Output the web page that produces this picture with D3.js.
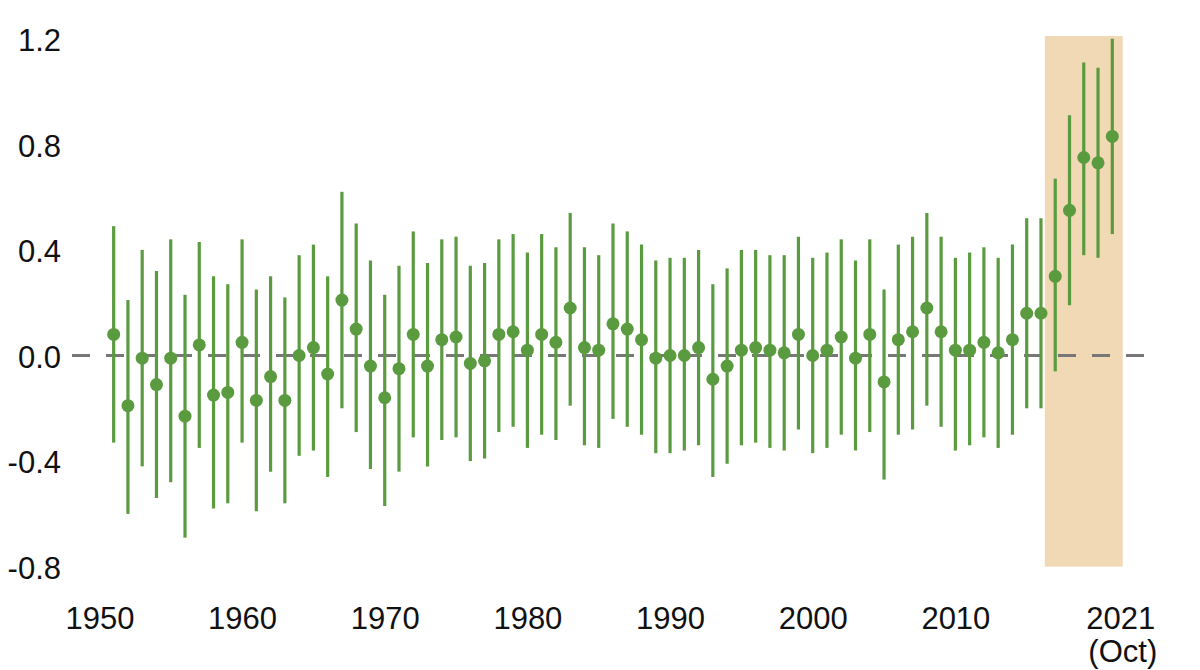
<!DOCTYPE html>
<html>
<head>
<meta charset="utf-8">
<script src="https://cdn.jsdelivr.net/npm/d3@7"></script>
<style>
  html, body { margin: 0; padding: 0; background: #fff; }
  svg { display: block; }
  .tick text { font-family: "Liberation Sans", Arial, sans-serif; fill: #111; }
</style>
</head>
<body>
<svg id="chart" width="1200" height="670"></svg>
<script>
// --- data ---
const years = [
  1951, 1952, 1953, 1954, 1955, 1956, 1957, 1958, 1959, 1960,
  1961, 1962, 1963, 1964, 1965, 1966, 1967, 1968, 1969, 1970,
  1971, 1972, 1973, 1974, 1975, 1976, 1977, 1978, 1979, 1980,
  1981, 1982, 1983, 1984, 1985, 1986, 1987, 1988, 1989, 1990,
  1991, 1992, 1993, 1994, 1995, 1996, 1997, 1998, 1999, 2000,
  2001, 2002, 2003, 2004, 2005, 2006, 2007, 2008, 2009, 2010,
  2011, 2012, 2013, 2014, 2015, 2016, 2017, 2018, 2019, 2020,
  2021
];

const centre = [
   0.08, -0.19, -0.01, -0.11, -0.01, -0.23,  0.04, -0.15, -0.14,  0.05,
  -0.17, -0.08, -0.17,  0.00,  0.03, -0.07,  0.21,  0.10, -0.04, -0.16,
  -0.05,  0.08, -0.04,  0.06,  0.07, -0.03, -0.02,  0.08,  0.09,  0.02,
   0.08,  0.05,  0.18,  0.03,  0.02,  0.12,  0.10,  0.06, -0.01,  0.00,
   0.00,  0.03, -0.09, -0.04,  0.02,  0.03,  0.02,  0.01,  0.08,  0.00,
   0.02,  0.07, -0.01,  0.08, -0.10,  0.06,  0.09,  0.18,  0.09,  0.02,
   0.02,  0.05,  0.01,  0.06,  0.16,  0.16,  0.30,  0.55,  0.75,  0.73,
   0.83
];

const upper = [
  0.49, 0.21, 0.40, 0.32, 0.44, 0.23, 0.43, 0.30, 0.27, 0.44,
  0.25, 0.30, 0.22, 0.38, 0.42, 0.30, 0.62, 0.50, 0.36, 0.23,
  0.34, 0.47, 0.35, 0.44, 0.45, 0.34, 0.35, 0.44, 0.46, 0.39,
  0.46, 0.41, 0.54, 0.41, 0.38, 0.50, 0.47, 0.42, 0.36, 0.37,
  0.37, 0.40, 0.27, 0.33, 0.40, 0.40, 0.38, 0.38, 0.45, 0.37,
  0.39, 0.44, 0.36, 0.44, 0.25, 0.42, 0.45, 0.54, 0.45, 0.37,
  0.39, 0.41, 0.37, 0.42, 0.52, 0.52, 0.67, 0.91, 1.11, 1.09,
  1.20
];

const lower = [
  -0.33, -0.60, -0.42, -0.54, -0.48, -0.69, -0.35, -0.58, -0.56, -0.33,
  -0.59, -0.44, -0.56, -0.38, -0.36, -0.46, -0.20, -0.29, -0.43, -0.57,
  -0.44, -0.31, -0.42, -0.32, -0.31, -0.40, -0.39, -0.29, -0.27, -0.35,
  -0.30, -0.32, -0.19, -0.34, -0.35, -0.24, -0.27, -0.30, -0.37, -0.37,
  -0.36, -0.34, -0.46, -0.41, -0.34, -0.33, -0.35, -0.36, -0.28, -0.37,
  -0.35, -0.30, -0.36, -0.29, -0.47, -0.30, -0.28, -0.19, -0.27, -0.36,
  -0.34, -0.31, -0.35, -0.30, -0.20, -0.20, -0.06,  0.19,  0.38,  0.37,
   0.46
];

const xTicks = [1950, 1960, 1970, 1980, 1990, 2000, 2010, 2021];
const yTicks = [-0.8, -0.4, 0.0, 0.4, 0.8, 1.2];
const highlightYears = [2016.27, 2021.73];

const points = years.map((y, i) => ({ year: y, mid: centre[i], hi: upper[i], lo: lower[i] }));

// --- scales ---
const svg = d3.select('#chart');
const x = d3.scaleLinear().domain([1950, 2021]).range([99.4, 1112.3]);
const y = d3.scaleLinear().domain([-0.8, 1.2]).range([566.7, 38.7]);

const green = '#5b9b40';

svg.append('rect').attr('width', 1200).attr('height', 670).attr('fill', '#fff');

// shaded recent years
svg.append('rect')
  .attr('x', x(highlightYears[0]))
  .attr('width', x(highlightYears[1]) - x(highlightYears[0]))
  .attr('y', y(1.21))
  .attr('height', y(-0.8) - y(1.21))
  .attr('fill', '#f0d9b4');

// zero reference line
svg.append('line')
  .attr('x1', 72).attr('x2', 1156)
  .attr('y1', y(0)).attr('y2', y(0))
  .attr('stroke', '#777')
  .attr('stroke-width', 3)
  .attr('stroke-dasharray', '18 16');

// error bars
svg.append('g')
  .selectAll('line')
  .data(points)
  .join('line')
  .attr('x1', d => x(d.year)).attr('x2', d => x(d.year))
  .attr('y1', d => y(d.hi)).attr('y2', d => y(d.lo))
  .attr('stroke', green)
  .attr('stroke-width', 3.2);

// central estimates
svg.append('g')
  .selectAll('circle')
  .data(points)
  .join('circle')
  .attr('cx', d => x(d.year))
  .attr('cy', d => y(d.mid))
  .attr('r', 6.5)
  .attr('fill', green);

// --- axes (labels only) ---
const yAxis = svg.append('g')
  .attr('transform', 'translate(61,0)')
  .call(d3.axisLeft(y).tickValues(yTicks).tickSize(0).tickPadding(0).tickFormat(d => d.toFixed(1)));
yAxis.select('.domain').remove();
yAxis.selectAll('text')
  .attr('font-size', 31)
  .attr('dy', '0.38em');

const xAxis = svg.append('g')
  .attr('transform', 'translate(0,629)')
  .call(d3.axisBottom(x).tickValues(xTicks).tickSize(0).tickFormat(d3.format('d')));
xAxis.select('.domain').remove();
xAxis.selectAll('text')
  .attr('font-size', 31)
  .attr('y', 0)
  .attr('dy', 0);

// last label gets a second line
xAxis.selectAll('.tick')
  .filter(d => d === 2021)
  .select('text')
  .text(null)
  .call(t => {
    t.append('tspan').attr('x', 0).attr('dx', 8).text('2021');
    t.append('tspan').attr('x', 0).attr('dx', 10).attr('dy', 33).text('(Oct)');
  });
</script>
</body>
</html>
